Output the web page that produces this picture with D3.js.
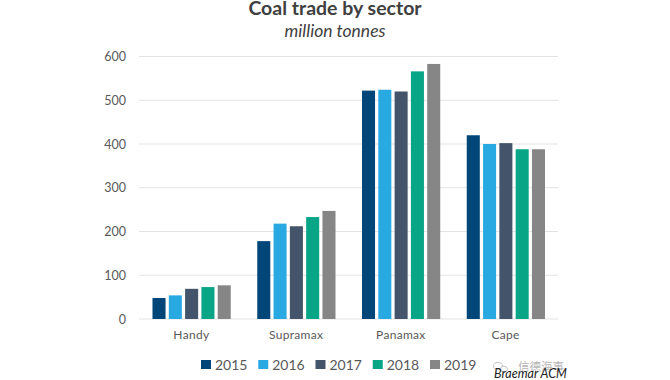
<!DOCTYPE html>
<html>
<head>
<meta charset="utf-8">
<script src="https://cdn.jsdelivr.net/npm/d3@7"></script>
<style>
  body { margin: 0; background: #fff; }
  text { font-family: Lato, "Open Sans", sans-serif; }
  .axis text { fill: #595959; }
  .axis path, .axis line { display: none; }
</style>
</head>
<body>
<script>
// data
var sectors = ["Handy", "Supramax", "Panamax", "Cape"];
var years = ["2015", "2016", "2017", "2018", "2019"];
var v2015 = [48, 178, 522, 420];
var v2016 = [54, 218, 524, 400];
var v2017 = [69, 212, 520, 402];
var v2018 = [73, 233, 566, 388];
var v2019 = [77, 247, 583, 388];
var series = [v2015, v2016, v2017, v2018, v2019];
var colors = ["#004679", "#29a9e1", "#44546a", "#09a587", "#868686"];
var yTicks = [0, 100, 200, 300, 400, 500, 600];

var width = 670, height = 380;
var margin = {top: 56.5, right: 112, bottom: 61, left: 139};

var svg = d3.select("body").append("svg")
    .attr("width", width)
    .attr("height", height);

var xScale = d3.scaleBand()
    .domain(sectors)
    .range([margin.left, width - margin.right]);

// bars sit inside each sector band
var xInner = d3.scaleBand()
    .domain(years)
    .range([13.5, xScale.bandwidth() - 13])
    .paddingInner(0.2);

var yScale = d3.scaleLinear()
    .domain([0, 600])
    .range([height - margin.bottom, margin.top]);

// gridlines
svg.append("g")
    .selectAll("line")
    .data(yTicks)
    .enter()
    .append("line")
    .attr("x1", margin.left)
    .attr("x2", width - margin.right)
    .attr("y1", d => yScale(d))
    .attr("y2", d => yScale(d))
    .attr("stroke", "#e3e3e3")
    .attr("stroke-width", 1.2);

// bars
svg.selectAll(".year")
    .data(series)
    .enter()
    .append("g")
    .attr("class", "year")
    .attr("fill", (d, i) => colors[i])
    .each(function(vals, i) {
        d3.select(this).selectAll("rect")
            .data(vals)
            .enter()
            .append("rect")
            .attr("x", (d, j) => xScale(sectors[j]) + xInner(years[i]))
            .attr("y", d => yScale(d))
            .attr("width", xInner.bandwidth())
            .attr("height", d => yScale(0) - yScale(d));
    });

// axes
svg.append("g")
    .attr("class", "axis")
    .attr("transform", "translate(" + margin.left + ",0)")
    .call(d3.axisLeft(yScale).tickValues(yTicks).tickSize(0).tickPadding(13))
    .selectAll("text")
    .style("font-size", "12.5px")
    .style("font-family", "Lato, sans-serif");

svg.append("g")
    .attr("class", "axis")
    .attr("transform", "translate(0," + (height - margin.bottom) + ")")
    .call(d3.axisBottom(xScale).tickSize(0).tickPadding(11))
    .selectAll("text")
    .style("font-size", "12px")
    .style("font-family", "Lato, sans-serif")
    .style("letter-spacing", "0.3px");

// title
svg.append("text")
    .attr("x", 335)
    .attr("y", 15)
    .attr("text-anchor", "middle")
    .attr("fill", "#404040")
    .style("font-size", "19.5px")
    .style("font-weight", "bold")
    .text("Coal trade by sector");

svg.append("text")
    .attr("x", 335)
    .attr("y", 37)
    .attr("text-anchor", "middle")
    .attr("fill", "#404040")
    .style("font-size", "17.5px")
    .style("font-style", "italic")
    .text("million tonnes");

// legend
var legendX = d3.scalePoint()
    .domain(years)
    .range([201, 430]);

var legend = svg.selectAll(".legend")
    .data(years)
    .enter()
    .append("g")
    .attr("class", "legend")
    .attr("transform", d => "translate(" + legendX(d) + ",360)");

legend.append("rect")
    .attr("width", 10)
    .attr("height", 9)
    .attr("fill", (d, i) => colors[i]);

legend.append("text")
    .attr("x", 14)
    .attr("y", 10)
    .attr("fill", "#595959")
    .style("font-size", "14px")
    .text(d => d);

// watermark and source
var icon = svg.append("g")
    .attr("fill", "#fff")
    .attr("stroke", "#c4c4c4");
icon.append("ellipse").attr("cx", 498).attr("cy", 366).attr("rx", 4.5).attr("ry", 3.5);
icon.append("ellipse").attr("cx", 504).attr("cy", 369).attr("rx", 3.5).attr("ry", 2.8);

svg.append("text")
    .attr("x", 518)
    .attr("y", 371)
    .attr("fill", "#b5b5b5")
    .style("font-family", "'Noto Sans CJK SC', sans-serif")
    .style("font-size", "11.5px")
    .text("信德海事");

svg.append("text")
    .attr("x", 494)
    .attr("y", 377.5)
    .attr("fill", "#222")
    .style("font-size", "12.5px")
    .style("font-style", "italic")
    .text("Braemar ACM");
</script>
</body>
</html>
